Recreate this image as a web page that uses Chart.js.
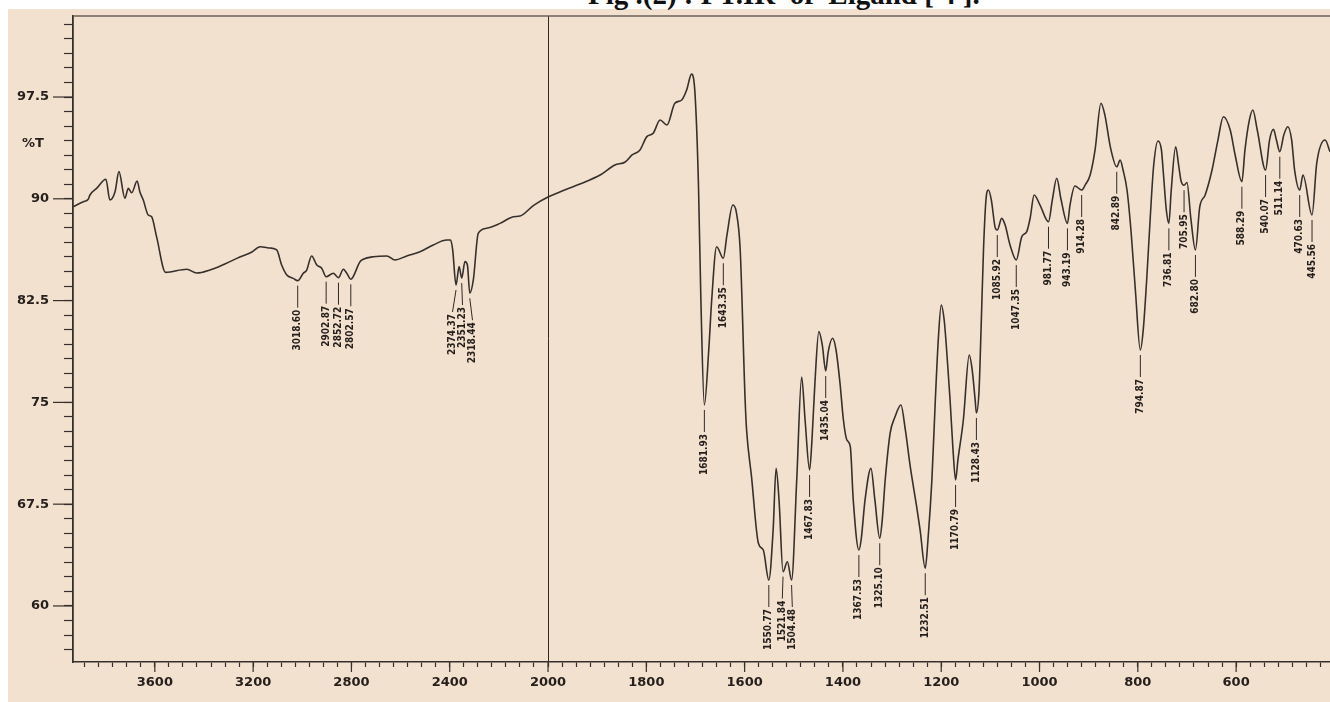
<!DOCTYPE html>
<html>
<head>
<meta charset="utf-8">
<script src="https://cdn.jsdelivr.net/npm/chart.js@4.4.0/dist/chart.umd.min.js"></script>
<style>
  html, body { margin: 0; padding: 0; background: #fff; }
  body { width: 1330px; height: 702px; position: relative; overflow: hidden; }
  #panel { position: absolute; left: 8px; top: 9px; right: 0; bottom: 0; background: #f3e1cf; }
  #title { position: absolute; left: 588px; top: -20px; font: bold 29px 'Liberation Serif', serif; line-height: 29px; white-space: pre; color: #111; }
  #chart { position: absolute; left: 0; top: 0; }
</style>
</head>
<body>
<div id="panel"></div>
<div id="title">Fig .(2) : FT.IR  of  Ligand [ 4 ].</div>
<canvas id="chart" width="1330" height="702"></canvas>
<script>
// wavenumber (1/cm), descending
const wn = [
  3932, 3891, 3871, 3864, 3837, 3799, 3783, 3762, 3746, 3722, 3708, 3694, 3672, 3661, 3647, 3627, 3613, 3593, 3556, 3470,
  3430, 3376, 3315, 3254, 3205, 3172, 3131, 3104, 3084, 3063, 3037, 3018.60, 2996, 2982, 2962, 2941, 2921, 2902.87, 2874, 2852.72,
  2833, 2817, 2802.57, 2765, 2752, 2711, 2656, 2623, 2575, 2521, 2467, 2412, 2396, 2388, 2374.37, 2362, 2351.23, 2338, 2328, 2318.44,
  2304, 2284, 2250, 2195, 2141, 2114, 2057, 2000,
  1976, 1935, 1894, 1864, 1843, 1829, 1813, 1799, 1786, 1772, 1758, 1742, 1728, 1718, 1708, 1701, 1694, 1689, 1681.93, 1673,
  1667, 1657, 1643.35, 1636, 1624, 1617, 1609, 1599, 1596, 1586, 1572, 1562, 1550.77, 1542, 1536, 1530, 1521.84, 1513, 1504.48, 1494,
  1484, 1477, 1467.83, 1463, 1457, 1449, 1442, 1435.04, 1430, 1421, 1414, 1406, 1399, 1392, 1385, 1379, 1367.53, 1363, 1355, 1343,
  1335, 1325.10, 1320, 1314, 1304, 1294, 1282, 1273, 1263, 1250, 1243, 1232.51, 1227, 1219, 1212, 1206, 1200, 1194, 1189, 1182,
  1176, 1170.79, 1166, 1155, 1143, 1137, 1131, 1128.43, 1123, 1119, 1114, 1109, 1104, 1098, 1090, 1085.92, 1077, 1070, 1060, 1047.35,
  1036, 1026, 1019, 1011, 999, 981.77, 974, 965, 956, 943.19, 938, 928, 914.28, 907, 897, 887, 875, 867, 856, 842.89,
  836, 830, 822, 814, 805, 794.87, 789, 782, 775, 768, 759, 752, 748, 742, 736.81, 732, 723, 717, 712, 705.95,
  700, 692, 682.80, 674, 663, 649, 637, 626, 612, 602, 588.29, 582, 573, 566, 557, 540.07, 532, 524, 518, 511.14,
  503, 495, 487, 481, 470.63, 464, 445.56, 436, 419, 409
];
// transmittance (%T)
const trans = [
  89.42, 89.79, 89.96, 90.28, 90.77, 91.44, 89.91, 90.52, 92.0, 90.04, 90.77, 90.45, 91.31, 90.52, 89.91, 88.81, 88.68, 87.21, 84.58, 84.81,
  84.53, 84.75, 85.2, 85.71, 86.08, 86.47, 86.37, 86.23, 85.12, 84.39, 84.14, 83.97, 84.51, 84.75, 85.79, 85.12, 84.88, 84.26, 84.51, 84.19,
  84.81, 84.46, 84.07, 85.37, 85.54, 85.73, 85.79, 85.49, 85.79, 86.10, 86.6, 86.96, 86.96, 86.23, 83.65, 85.0, 84.16, 85.37, 85.12, 83.04,
  84.02, 87.46, 87.83, 88.19, 88.68, 88.73, 89.54, 90.13,
  90.5, 91.09, 91.75, 92.49, 92.71, 93.23, 93.6, 94.58, 94.83, 95.81, 95.44, 97.04, 97.28, 98.02, 99.19, 97.77, 91.14, 82.54, 74.81, 78.86,
  82.54, 86.47, 85.62, 87.33, 89.54, 89.03, 86.23, 75.18, 72.97, 69.53, 64.62, 64.12, 61.91, 65.6, 70.14, 67.81, 62.53, 63.26, 61.91, 69.28,
  76.87, 73.7, 70.02, 72.23, 76.43, 80.21, 79.23, 77.31, 78.71, 79.72, 78.86, 76.43, 73.70, 72.23, 71.74, 67.81, 64.12, 64.86, 67.81, 70.14,
  67.81, 64.99, 66.34, 69.28, 72.72, 73.94, 74.81, 72.97, 70.26, 67.31, 65.6, 62.78, 64.86, 69.28, 75.18, 79.6, 82.18, 81.07, 78.86, 75.18,
  71.49, 69.28, 70.76, 73.70, 78.49, 77.39, 75.18, 74.22, 75.91, 80.33, 86.23, 89.91, 90.65, 89.91, 87.85, 87.70, 88.56, 88.07, 86.6, 85.49,
  87.21, 87.58, 88.59, 90.28, 89.54, 88.31, 89.91, 91.51, 89.91, 88.19, 89.54, 90.94, 90.65, 91.02, 91.75, 93.6, 97.04, 96.17, 93.84, 92.36,
  92.86, 92.12, 90.65, 87.7, 83.28, 78.86, 80.33, 84.02, 88.44, 92.36, 94.26, 93.6, 91.88, 89.17, 88.19, 90.65, 93.84, 92.49, 91.3, 91.0,
  91.2, 88.5, 86.23, 89.4, 90.28, 92.12, 94.33, 96.05, 95.07, 93.23, 91.26, 93.6, 95.81, 96.54, 95.07, 92.12, 94.33, 95.12, 94.33, 93.47,
  94.7, 95.31, 94.33, 92.12, 90.65, 91.75, 88.81, 92.62, 94.33, 93.47
];
// labelled peaks (wavenumbers, must be in wn)
const peakWn = [
  3018.60, 2902.87, 2852.72, 2802.57, 2374.37, 2351.23, 2318.44,
  1681.93, 1643.35, 1550.77, 1521.84, 1504.48, 1467.83, 1435.04, 1367.53, 1325.10, 1232.51, 1170.79, 1128.43,
  1085.92, 1047.35, 981.77, 943.19, 914.28, 842.89, 794.87, 736.81, 705.95, 682.80, 588.29, 540.07, 511.14, 470.63, 445.56
];
const xMajorTicks = [3600, 3200, 2800, 2400, 2000, 1800, 1600, 1400, 1200, 1000, 800, 600];
const yMajorTicks = [60, 67.5, 75, 82.5, 90, 97.5];

// the x axis changes scale at 2000: above it 1 unit = 2 cm-1
const toU = w => (w <= 2000 ? w : 2000 + (w - 2000) / 2);
const fromU = u => (u <= 2000 ? u : 2000 + (u - 2000) * 2);
const near = (a, b) => Math.abs(a - b) < 1e-6;

const ink = '#36302c';
const tickFont = { family: "'DejaVu Sans', sans-serif", size: 13, weight: 'bold' };

// decorations: top frame line, %T, longer major ticks, peak labels
const frame = {
  id: 'frame',
  afterDraw(chart) {
    const c = chart.ctx, a = chart.chartArea;
    const xs = chart.scales.x, ys = chart.scales.y;
    c.save();
    c.strokeStyle = '#6b615a';
    c.lineWidth = 1.5;
    c.beginPath();
    c.moveTo(a.left, a.top);
    c.lineTo(a.right, a.top);
    c.stroke();
    c.strokeStyle = ink;
    c.lineWidth = 1.2;
    xMajorTicks.forEach(w => {
      const x = xs.getPixelForValue(toU(w));
      c.beginPath(); c.moveTo(x, a.bottom); c.lineTo(x, a.bottom + 10); c.stroke();
    });
    yMajorTicks.forEach(t => {
      const y = ys.getPixelForValue(t);
      c.beginPath(); c.moveTo(a.left, y); c.lineTo(a.left - 20, y); c.stroke();
    });
    c.fillStyle = '#26201d';
    c.font = "bold 13px 'DejaVu Sans', sans-serif";
    c.textAlign = 'left';
    c.textBaseline = 'middle';
    c.fillText('%T', 22, ys.getPixelForValue(94.1));
    c.restore();
  },
  afterDatasetsDraw(chart) {
    const c = chart.ctx;
    const xs = chart.scales.x, ys = chart.scales.y;
    const items = peakWn.map(w => {
      const x = xs.getPixelForValue(toU(w));
      return { w, x, lx: x, y: ys.getPixelForValue(trans[wn.indexOf(w)]) };
    });
    // spread labels that would overlap
    for (let pass = 0; pass < 30; pass++) {
      for (let i = 0; i < items.length - 1; i++) {
        const d = items[i + 1].lx - items[i].lx;
        if (d < 10) {
          const s = (10 - d) / 2;
          items[i].lx -= s;
          items[i + 1].lx += s;
        }
      }
    }
    c.save();
    c.strokeStyle = '#2f2926';
    c.fillStyle = '#26201d';
    c.lineWidth = 1;
    c.font = "bold 10px 'DejaVu Sans Condensed', 'DejaVu Sans', sans-serif";
    items.forEach(p => {
      c.beginPath();
      c.moveTo(p.x, p.y + 5);
      c.lineTo(p.lx, p.y + 27);
      c.stroke();
      c.save();
      c.translate(p.lx, p.y + 29);
      c.rotate(-Math.PI / 2);
      c.textAlign = 'right';
      c.textBaseline = 'middle';
      c.fillText(p.w.toFixed(2), 0, 0);
      c.restore();
    });
    c.restore();
  }
};

new Chart(document.getElementById('chart'), {
  type: 'line',
  data: {
    datasets: [{
      data: wn.map((w, i) => ({ x: toU(w), y: trans[i] })),
      borderColor: ink,
      borderWidth: 1.6,
      pointRadius: 0,
      cubicInterpolationMode: 'monotone',
      fill: false
    }]
  },
  options: {
    responsive: false,
    animation: false,
    devicePixelRatio: 1,
    layout: { padding: { top: 16, right: 0, left: 0, bottom: 0 } },
    plugins: { legend: { display: false }, tooltip: { enabled: false } },
    scales: {
      x: {
        type: 'linear',
        reverse: true,
        min: toU(409),
        max: toU(3933),
        afterBuildTicks: scale => {
          const t = [];
          for (let k = 0; 2000 + k * 400 / 7 <= 3933; k++) t.push({ value: toU(2000 + k * 400 / 7) });
          for (let k = 1; 2000 - k * 200 / 7 >= 409; k++) t.push({ value: 2000 - k * 200 / 7 });
          scale.ticks = t;
        },
        afterFit: scale => { scale.height = 40; scale.paddingLeft = 0; scale.paddingRight = 0; },
        ticks: {
          autoSkip: false,
          maxRotation: 0,
          padding: 8,
          color: '#26201d',
          font: tickFont,
          callback: value => {
            const w = fromU(value);
            return xMajorTicks.some(m => near(m, w)) ? String(Math.round(w)) : '';
          }
        },
        grid: {
          drawOnChartArea: true,
          drawTicks: true,
          tickLength: 5,
          tickColor: ink,
          tickWidth: 1.2,
          lineWidth: 1,
          color: ctx => (ctx.tick && near(ctx.tick.value, 2000) ? '#2f2926' : 'rgba(0,0,0,0)')
        },
        border: { display: true, color: ink, width: 1.5 },
        title: {
          display: true,
          text: '1/cm',
          align: 'end',
          color: '#26201d',
          font: { family: "'DejaVu Sans', sans-serif", size: 12, weight: 'bold' },
          padding: { top: 0, bottom: 2 }
        }
      },
      y: {
        type: 'linear',
        min: 55.87,
        max: 103.47,
        afterBuildTicks: scale => {
          const t = [];
          for (let k = -3; 60 + k * 7.5 / 7 <= 103.47; k++) t.push({ value: 60 + k * 7.5 / 7 });
          scale.ticks = t;
        },
        afterFit: scale => { scale.width = 73; scale.paddingTop = 0; scale.paddingBottom = 0; },
        ticks: {
          autoSkip: false,
          padding: 15,
          color: '#26201d',
          font: tickFont,
          callback: value => (yMajorTicks.some(m => near(m, value)) ? String(value) : '')
        },
        grid: {
          drawOnChartArea: false,
          drawTicks: true,
          tickLength: 9,
          tickColor: ink,
          tickWidth: 1.2
        },
        border: { display: true, color: ink, width: 1.8 }
      }
    }
  },
  plugins: [frame]
});
</script>
</body>
</html>
